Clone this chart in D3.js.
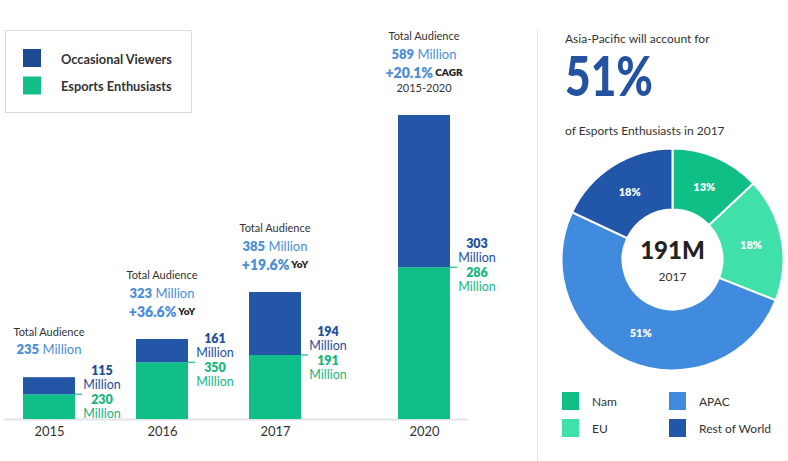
<!DOCTYPE html>
<html><head><meta charset="utf-8">
<script src="https://cdn.jsdelivr.net/npm/d3@7"></script>
<style>
html,body{margin:0;padding:0;background:#fff;}
svg{display:block;font-family:Lato,"Open Sans",sans-serif;}
</style></head>
<body><svg id="c" width="788" height="461"></svg>
<script>
// ---- data ----
const years = ["2015", "2016", "2017", "2020"];
const enthusiastsBar = [48, 110, 124, 294];   // bar heights (scale units, millions)
const occasionalBar = [33, 45, 122, 295];
const occasionalLabel = ["115", "161", "194", "303"];
const enthusiastsLabel = ["230", "350", "191", "286"];
const totalAudience = ["235", "323", "385", "589"];
const growth = [null, "+36.6%", "+19.6%", "+20.1%"];
const growthUnit = [null, "YoY", "YoY", "CAGR"];
const growthPeriod = [null, null, null, "2015-2020"];
const seriesNames = ["Occasional Viewers", "Esports Enthusiasts"];

const regions = ["Nam", "EU", "APAC", "Rest of World"];
const regionShare = [13, 18, 51, 18];
const donutCenter = "191M";
const donutYear = "2017";

// ---- styles ----
const C = {
  blue: "#2356a6", green: "#10bf88", lightBlue: "#4a8ed8",
  darkBlueText: "#244f9a", greenText: "#17b67f",
  nam: "#0fbf86", eu: "#3fe0a9", apac: "#418bdf", row: "#2256a8",
  text: "#333"
};

const svg = d3.select("#c");

// ---- bar chart ----
const x = d3.scaleOrdinal().domain(years).range([49, 162, 275, 424]);
const barW = 52;
const y = d3.scaleLinear().domain([0, 589]).range([419, 115]);

const data = years.map((yr, i) => ({
  yr, g: enthusiastsBar[i], b: occasionalBar[i],
  ob: occasionalLabel[i], eg: enthusiastsLabel[i],
  tot: totalAudience[i], gr: growth[i], gu: growthUnit[i], gp: growthPeriod[i]
}));

// axis baseline
svg.append("line").attr("x1", 4).attr("x2", 468).attr("y1", 419.5).attr("y2", 419.5)
  .attr("stroke", "#e2e4e8").attr("stroke-width", 2);

const g = svg.append("g");
g.selectAll("rect.g").data(data).join("rect")
  .attr("x", d => x(d.yr) - barW / 2).attr("width", barW)
  .attr("y", d => y(d.g)).attr("height", d => y(0) - y(d.g))
  .attr("fill", C.green);
g.selectAll("rect.b").data(data).join("rect")
  .attr("x", d => x(d.yr) - barW / 2).attr("width", barW)
  .attr("y", d => y(d.g + d.b)).attr("height", d => y(d.g) - y(d.g + d.b))
  .attr("fill", C.blue);

// x axis labels
const xAxis = d3.axisBottom(x).tickSize(0).tickPadding(0);
const ax = svg.append("g").attr("transform", "translate(0,427)").call(xAxis);
ax.select(".domain").remove();
ax.selectAll("text").attr("font-size", 13).attr("fill", C.text)
  .attr("font-family", "Lato, sans-serif").attr("dy", "0.71em");

// value labels
data.forEach(d => {
  const xr = x(d.yr) + barW / 2;
  const yb = y(d.g);
  const cx = xr + 27;
  svg.append("line").attr("x1", xr).attr("x2", xr + 7).attr("y1", yb).attr("y2", yb)
    .attr("stroke", C.green).attr("stroke-width", 1.2);
  const t = (yy, txt, col, bold) => svg.append("text").attr("x", cx).attr("y", yy)
    .attr("text-anchor", "middle").attr("dominant-baseline", "central")
    .attr("font-size", 12.5).attr("font-weight", bold ? 800 : 400).attr("fill", col).text(txt);
  t(yb - 24, d.ob, C.darkBlueText, true);
  t(yb - 10, "Million", C.darkBlueText, false);
  t(yb + 5, d.eg, C.greenText, true);
  t(yb + 19, "Million", C.greenText, false);
});

// total annotations
data.forEach(d => {
  const cx = x(d.yr);
  let yy = y(d.g + d.b) - 28;
  if (d.gp) {
    svg.append("text").attr("x", cx).attr("y", yy).attr("text-anchor", "middle")
      .attr("dominant-baseline", "central").attr("font-size", 11).attr("fill", C.text).text(d.gp);
    yy -= 15;
  }
  if (d.gr) {
    const tx = svg.append("text").attr("x", cx).attr("y", yy).attr("text-anchor", "middle")
      .attr("dominant-baseline", "central");
    tx.append("tspan").attr("font-size", 14).attr("font-weight", 800).attr("fill", C.lightBlue).text(d.gr);
    tx.append("tspan").attr("font-size", 10).attr("font-weight", 800).attr("fill", "#222").text(" " + d.gu);
    yy -= 18.5;
  }
  const tt = svg.append("text").attr("x", cx).attr("y", yy).attr("text-anchor", "middle")
    .attr("dominant-baseline", "central");
  tt.append("tspan").attr("font-size", 13).attr("font-weight", 800).attr("fill", C.lightBlue).text(d.tot);
  tt.append("tspan").attr("font-size", 13).attr("font-weight", 400).attr("fill", C.lightBlue).text(" Million");
  yy -= 18;
  svg.append("text").attr("x", cx).attr("y", yy).attr("text-anchor", "middle")
    .attr("dominant-baseline", "central").attr("font-size", 11).attr("fill", C.text).text("Total Audience");
});

// legend
const lg = svg.append("g");
lg.append("rect").attr("x", 5.5).attr("y", 30.5).attr("width", 186).attr("height", 82)
  .attr("fill", "#fff").attr("stroke", "#dcdcdc");
seriesNames.forEach((n, i) => {
  lg.append("rect").attr("x", 23).attr("y", 49 + i * 27.5).attr("width", 18).attr("height", 18)
    .attr("fill", i === 0 ? "#1c4b91" : C.green);
  lg.append("text").attr("x", 61).attr("y", 58.5 + i * 27.5).attr("dominant-baseline", "central")
    .attr("font-size", 12.8).attr("font-weight", 700).attr("fill", "#333").text(n);
});

// divider
svg.append("line").attr("x1", 537.5).attr("x2", 537.5).attr("y1", 30).attr("y2", 461)
  .attr("stroke", "#e4e4e4").attr("stroke-width", 1);

// right panel text
svg.append("text").attr("x", 565).attr("y", 38).attr("dominant-baseline", "central")
  .attr("font-size", 12).attr("fill", C.text).text("Asia-Pacific will account for");
svg.append("text").attr("x", 565).attr("y", 96)
  .attr("font-size", 56).attr("font-weight", 900).attr("fill", "#2353a0")
  .attr("textLength", 88).attr("lengthAdjust", "spacingAndGlyphs")
  .text(regionShare[2] + "%");
svg.append("text").attr("x", 565).attr("y", 130).attr("dominant-baseline", "central")
  .attr("font-size", 12).attr("fill", C.text).text("of Esports Enthusiasts in " + donutYear);

// donut
const colors = d3.scaleOrdinal().domain(regions).range([C.nam, C.eu, C.apac, C.row]);
const pie = d3.pie().sort(null).value(d => d.v);
const arcs = pie(regions.map((r, i) => ({ r, v: regionShare[i] })));
const arc = d3.arc().innerRadius(50).outerRadius(111);
const labelArc = d3.arc().innerRadius(80).outerRadius(80);
const dg = svg.append("g").attr("transform", "translate(672.5,259.5)");
dg.selectAll("path").data(arcs).join("path")
  .attr("d", arc).attr("fill", d => colors(d.data.r))
  .attr("stroke", "#fff").attr("stroke-width", 2);
dg.selectAll("text.pct").data(arcs).join("text")
  .attr("transform", d => `translate(${labelArc.centroid(d)})`)
  .attr("text-anchor", "middle").attr("dominant-baseline", "central")
  .attr("font-size", 11).attr("font-weight", 800).attr("fill", "#fff")
  .text(d => d.data.v + "%");
dg.append("text").attr("y", -10).attr("text-anchor", "middle").attr("dominant-baseline", "central")
  .attr("font-size", 24).attr("font-weight", 900).attr("fill", "#222").text(donutCenter);
dg.append("text").attr("y", 17).attr("text-anchor", "middle").attr("dominant-baseline", "central")
  .attr("font-size", 12).attr("fill", "#333").text(donutYear);

// donut legend (column-major: Nam, EU | APAC, Rest of World)
regions.forEach((r, i) => {
  const col = Math.floor(i / 2), row = i % 2;
  const lx = 562 + col * 107, ly = 392 + row * 27;
  svg.append("rect").attr("x", lx).attr("y", ly).attr("width", 17).attr("height", 18).attr("fill", colors(r));
  svg.append("text").attr("x", lx + 30).attr("y", ly + 9.5).attr("dominant-baseline", "central")
    .attr("font-size", 12).attr("fill", "#333").text(r);
});
</script></body></html>
